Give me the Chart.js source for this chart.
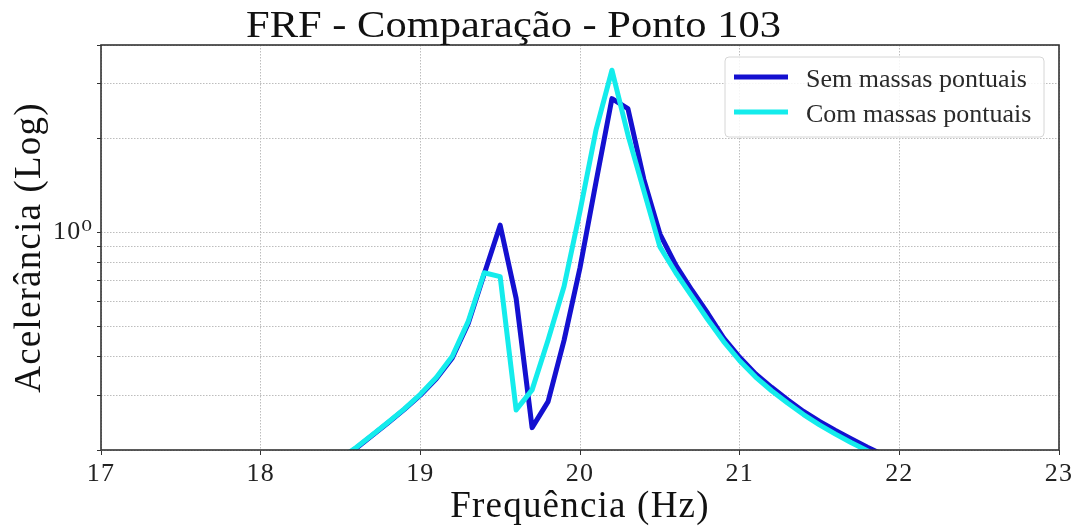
<!DOCTYPE html>
<html>
<head>
<meta charset="utf-8">
<script src="https://cdn.jsdelivr.net/npm/chart.js@4/dist/chart.umd.min.js"></script>
<style>
  html, body { margin: 0; padding: 0; background: #ffffff; }
  #wrap { width: 1079px; height: 529px; }
</style>
</head>
<body>
<div id="wrap"><canvas id="frf" width="1079" height="529"></canvas></div>
<script>
// Frequency samples (Hz)
const freqHz = [18.5, 18.6, 18.7, 18.8, 18.9, 19.0, 19.1, 19.2, 19.3, 19.4,
                19.5, 19.6, 19.7, 19.8, 19.9, 20.0, 20.1, 20.2, 20.3, 20.4,
                20.5, 20.6, 20.7, 20.8, 20.9, 21.0, 21.1, 21.2, 21.3, 21.4,
                21.5, 21.6, 21.7, 21.8, 21.9];

// Accelerance magnitude without point masses
const semMassas = [0.187, 0.203, 0.223, 0.245, 0.270, 0.300, 0.339, 0.395, 0.510, 0.735,
                   1.055, 0.614, 0.236, 0.286, 0.450, 0.770, 1.450, 2.690, 2.500, 1.480,
                   0.990, 0.785, 0.653, 0.550, 0.458, 0.397, 0.351, 0.318, 0.290, 0.266,
                   0.247, 0.231, 0.217, 0.204, 0.193];

// Accelerance magnitude with point masses
const comMassas = [0.188, 0.204, 0.224, 0.246, 0.271, 0.302, 0.342, 0.400, 0.518, 0.742,
                   0.721, 0.269, 0.312, 0.451, 0.670, 1.170, 2.130, 3.320, 2.060, 1.360,
                   0.900, 0.742, 0.624, 0.525, 0.446, 0.387, 0.343, 0.310, 0.283, 0.260,
                   0.241, 0.225, 0.211, 0.199, 0.188];

const seriesNames = ['Sem massas pontuais', 'Com massas pontuais'];
const seriesColors = ['#1410d0', '#14ecec'];

const xTickValues = [17, 18, 19, 20, 21, 22, 23];
const yTickValues = [0.2, 0.3, 0.4, 0.5, 0.6, 0.7, 0.8, 0.9, 1, 2, 3, 4];
const yTickText = { 1: '10\u2070' };

const chartTitle = 'FRF - Comparação - Ponto 103';
const xTitle = 'Frequência (Hz)';
const yTitle = 'Acelerância (Log)';

const SERIF = "'Liberation Serif', 'DejaVu Serif', serif";

function toPoints(values) {
  return freqHz.map((f, i) => ({ x: f, y: values[i] }));
}

// Title, full axes frame and the boxed legend inside the plot
const decorations = {
  id: 'decorations',
  beforeDraw(chart) {
    chart.ctx.letterSpacing = '1.2px';
  },
  afterDatasetsDraw(chart) {
    const { ctx, chartArea: a } = chart;
    ctx.save();
    ctx.letterSpacing = '0px';
    // frame on all four sides
    ctx.strokeStyle = '#333333';
    ctx.lineWidth = 1.6;
    ctx.strokeRect(a.left, a.top, a.right - a.left, a.bottom - a.top);

    // legend
    const bx = 725, by = 57, bw = 319, bh = 80, r = 4;
    ctx.beginPath();
    ctx.roundRect(bx, by, bw, bh, r);
    ctx.fillStyle = 'rgba(255,255,255,0.85)';
    ctx.fill();
    ctx.strokeStyle = '#d6d6d6';
    ctx.lineWidth = 1;
    ctx.stroke();
    chart.data.datasets.forEach((ds, i) => {
      const ly = 77 + i * 35;
      ctx.beginPath();
      ctx.moveTo(734, ly);
      ctx.lineTo(788, ly);
      ctx.strokeStyle = ds.borderColor;
      ctx.lineWidth = 5;
      ctx.lineCap = 'butt';
      ctx.stroke();
      ctx.fillStyle = '#2a2a2a';
      ctx.font = '26px ' + SERIF;
      ctx.textAlign = 'left';
      ctx.textBaseline = 'alphabetic';
      ctx.fillText(ds.label, 806, ly + 10);
    });
    ctx.restore();
  },
  afterDraw(chart) {
    const ctx = chart.ctx;
    ctx.save();
    ctx.letterSpacing = '0px';
    ctx.font = '37px ' + SERIF;
    ctx.fillStyle = '#111111';
    ctx.textAlign = 'center';
    ctx.textBaseline = 'alphabetic';
    const w = ctx.measureText(chartTitle).width;
    const sx = 535 / w;
    ctx.translate(513.5, 37);
    ctx.scale(sx, 1);
    ctx.fillText(chartTitle, 0, 0);
    ctx.restore();
    ctx.letterSpacing = '0px';
  }
};

new Chart(document.getElementById('frf'), {
  type: 'line',
  data: {
    datasets: [
      {
        label: seriesNames[0],
        data: toPoints(semMassas),
        borderColor: seriesColors[0],
        backgroundColor: seriesColors[0],
        borderWidth: 5,
        borderJoinStyle: 'round',
        pointRadius: 0,
        tension: 0,
        fill: false,
        order: 1
      },
      {
        label: seriesNames[1],
        data: toPoints(comMassas),
        borderColor: seriesColors[1],
        backgroundColor: seriesColors[1],
        borderWidth: 5,
        borderJoinStyle: 'round',
        pointRadius: 0,
        tension: 0,
        fill: false,
        order: 0
      }
    ]
  },
  options: {
    responsive: false,
    animation: false,
    devicePixelRatio: 1,
    layout: { padding: { top: 45, right: 20, left: 0, bottom: 0 } },
    plugins: {
      legend: { display: false },
      title: { display: false },
      tooltip: { enabled: false }
    },
    scales: {
      x: {
        type: 'linear',
        min: 17,
        max: 23,
        afterBuildTicks(scale) {
          scale.ticks = xTickValues.map(v => ({ value: v }));
        },
        afterFit(scale) { scale.height = 79; },
        ticks: {
          autoSkip: false,
          maxRotation: 0,
          padding: 4,
          color: '#222222',
          font: { family: SERIF, size: 26 },
          callback: v => String(v)
        },
        grid: {
          color: '#bdbdbd',
          lineWidth: 1,
          tickLength: 5,
          tickColor: '#333333'
        },
        border: { display: false, dash: [1.5, 1.5] },
        title: {
          display: true,
          text: xTitle,
          color: '#111111',
          font: { family: SERIF, size: 37 },
          padding: { top: 0, bottom: 0 }
        }
      },
      y: {
        type: 'logarithmic',
        min: 0.2,
        max: 4,
        bounds: 'data',
        afterBuildTicks(scale) {
          scale.ticks = yTickValues.map(v => ({ value: v }));
        },
        afterFit(scale) { scale.width = 101; },
        ticks: {
          autoSkip: false,
          padding: 4,
          color: '#222222',
          font: { family: SERIF, size: 26 },
          callback: v => (yTickText[v] !== undefined ? yTickText[v] : '')
        },
        grid: {
          color: '#bdbdbd',
          lineWidth: 1,
          tickLength: 4,
          tickColor: '#333333'
        },
        border: { display: false, dash: [1.5, 1.5] },
        title: {
          display: true,
          text: yTitle,
          color: '#111111',
          font: { family: SERIF, size: 37 },
          padding: { top: 8, bottom: 0 }
        }
      }
    }
  },
  plugins: [decorations]
});
</script>
</body>
</html>
